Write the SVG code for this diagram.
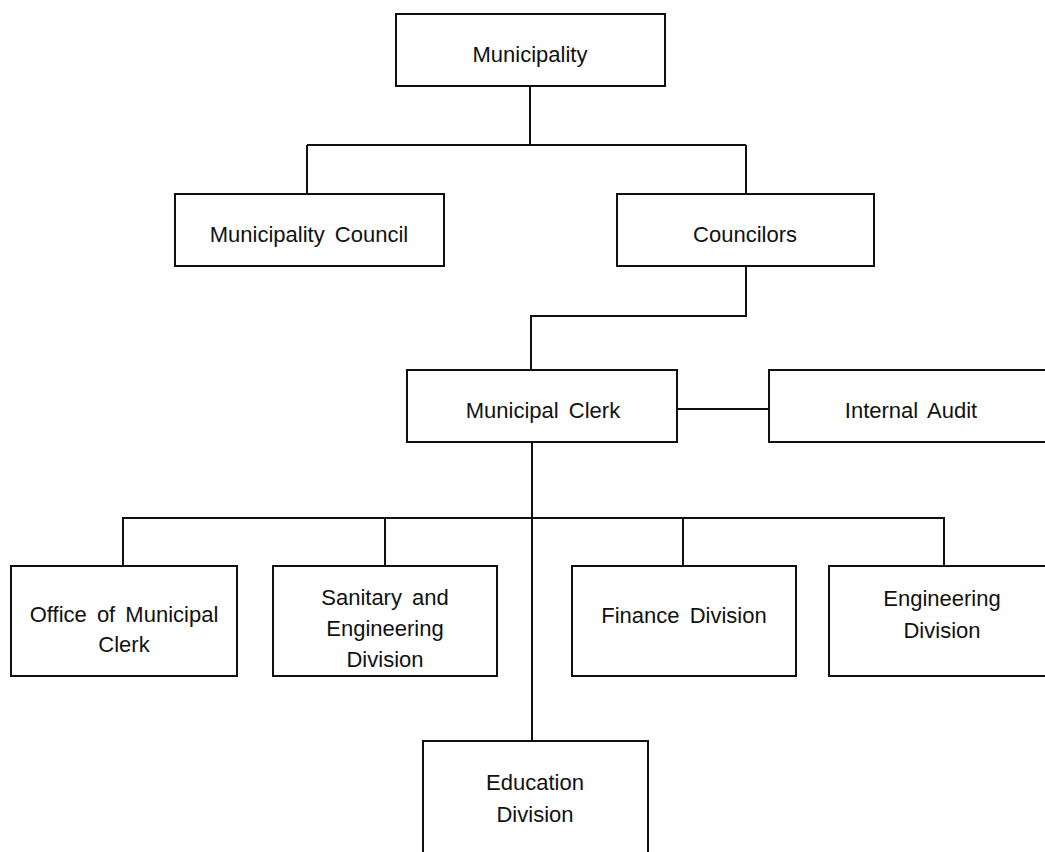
<svg xmlns="http://www.w3.org/2000/svg" width="1045" height="852" viewBox="0 0 1045 852">
<style>
.box{fill:#fff;stroke:#111;stroke-width:2}
.lbl{font-family:"Liberation Sans",Arial,sans-serif;font-size:22px;fill:#111;text-anchor:middle;word-spacing:4px}
.ln{fill:none;stroke:#111;stroke-width:2}
</style>
<rect width="1045" height="852" fill="#fff"/>
<g id="connectors">
<path class="ln" d="M530 86V145M307 145H746M307 145V194M746 145V194"/>
<path class="ln" d="M746 266V316H531V370"/>
<path class="ln" d="M677 409H769"/>
<path class="ln" d="M532 442V741"/>
<path class="ln" d="M123 566V518H944V566M385 518V566M683 518V566"/>
</g>
<g id="municipality"><rect class="box" x="396" y="14" width="269" height="72"/><text class="lbl" x="530" y="62">Municipality</text></g>
<g id="council"><rect class="box" x="175" y="194" width="269" height="72"/><text class="lbl" x="309" y="242">Municipality Council</text></g>
<g id="councilors"><rect class="box" x="617" y="194" width="257" height="72"/><text class="lbl" x="745" y="242">Councilors</text></g>
<g id="clerk"><rect class="box" x="407" y="370" width="270" height="72"/><text class="lbl" x="543" y="418">Municipal Clerk</text></g>
<g id="audit"><rect class="box" x="769" y="370" width="300" height="72"/><text class="lbl" x="911" y="418">Internal Audit</text></g>
<g id="office"><rect class="box" x="11" y="566" width="226" height="110"/><text class="lbl" x="124" y="622">Office of Municipal</text><text class="lbl" x="124" y="652">Clerk</text></g>
<g id="sanitary"><rect class="box" x="273" y="566" width="224" height="110"/><text class="lbl" x="385" y="605">Sanitary and</text><text class="lbl" x="385" y="636">Engineering</text><text class="lbl" x="385" y="667">Division</text></g>
<g id="finance"><rect class="box" x="572" y="566" width="224" height="110"/><text class="lbl" x="684" y="623">Finance Division</text></g>
<g id="engineering"><rect class="box" x="829" y="566" width="230" height="110"/><text class="lbl" x="942" y="606">Engineering</text><text class="lbl" x="942" y="638">Division</text></g>
<g id="education"><rect class="box" x="423" y="741" width="225" height="130"/><text class="lbl" x="535" y="790">Education</text><text class="lbl" x="535" y="822">Division</text></g>
</svg>
